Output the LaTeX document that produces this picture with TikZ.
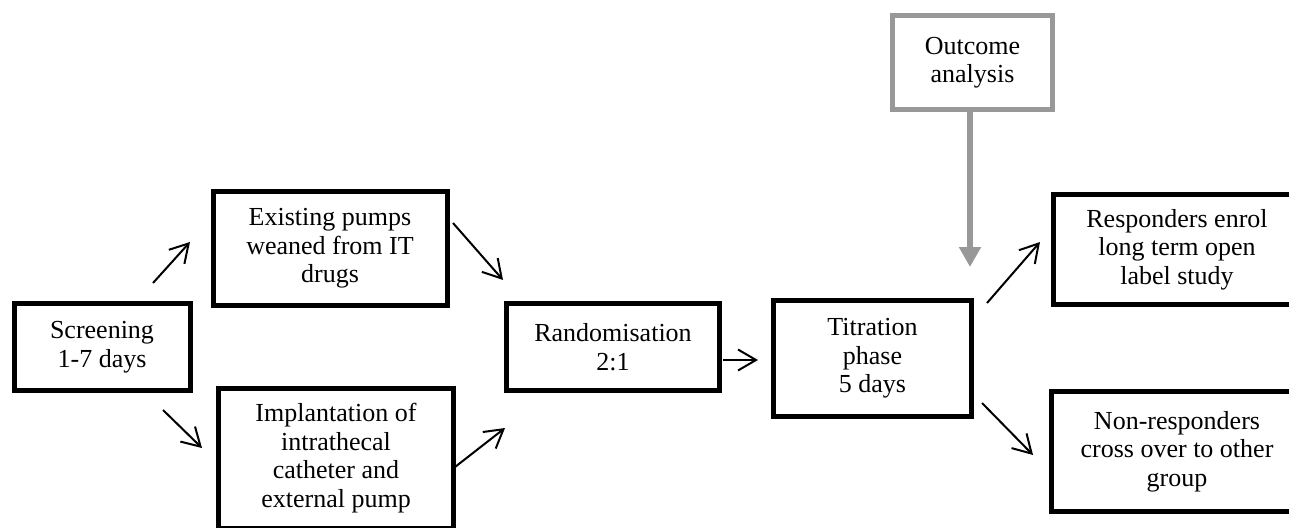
\documentclass[tikz,border=0pt]{standalone}
\usepackage{fontspec}
\setmainfont{Liberation Serif}
\usetikzlibrary{arrows.meta}
\definecolor{boxgray}{RGB}{152,152,152}
\tikzset{
  stepbox/.style={draw=black, line width=5pt, fill=white, inner sep=0pt, align=center,
    font=\fontsize{26}{28.5}\selectfont},
  graybox/.style={stepbox, draw=boxgray},
  flow/.style={line width=2pt, -{Straight Barb[length=18pt,width=21pt,line width=2pt]}},
  grayflow/.style={draw=boxgray, line width=6.5pt, -{Triangle[length=20pt,width=21pt]}}
}
\begin{document}
\begin{tikzpicture}[x=1pt,y=-1pt]
\useasboundingbox (0,0) rectangle (1289,527);
\node[stepbox, minimum width=176pt, minimum height=87pt] (scr) at (102,347) {Screening\\1-7 days};
\node[stepbox, minimum width=234pt, minimum height=114pt] (exist) at (330,248.5) {Existing pumps\\weaned from IT\\drugs};
\node[stepbox, minimum width=235pt, minimum height=140pt] (impl) at (336,458) {Implantation of\\intrathecal\\catheter and\\external pump};
\node[stepbox, minimum width=213pt, minimum height=87pt] (rand) at (613,347) {Randomisation\\2:1};
\node[stepbox, minimum width=198pt, minimum height=116pt] (tit) at (872.5,358.5) {Titration\\phase\\5 days};
\node[graybox, minimum width=160pt, minimum height=94pt] (out) at (972.5,62.5) {Outcome\\analysis};
\node[stepbox, minimum width=247pt, minimum height=110pt] (resp) at (1177,249.5) {Responders enrol\\long term open\\label study};
\node[stepbox, minimum width=251pt, minimum height=120pt] (nonr) at (1177,451.5) {Non-responders\\cross over to other\\group};

\coordinate (a1s) at (153,283); \coordinate (a1e) at (190,242);
\coordinate (a2s) at (163,410); \coordinate (a2e) at (202,448);
\coordinate (a3s) at (453,223); \coordinate (a3e) at (503,280);
\coordinate (a4s) at (455,467); \coordinate (a4e) at (505,428);
\coordinate (a5s) at (723,360); \coordinate (a5e) at (758,360);
\coordinate (a6s) at (987,303); \coordinate (a6e) at (1040,242);
\coordinate (a7s) at (982,403); \coordinate (a7e) at (1033,455);
\coordinate (g1e) at (970,267);

\draw[flow] (a1s) -- (a1e);
\draw[flow] (a2s) -- (a2e);
\draw[flow] (a3s) -- (a3e);
\draw[flow] (a4s) -- (a4e);
\draw[flow] (a5s) -- (a5e);
\draw[flow] (a6s) -- (a6e);
\draw[flow] (a7s) -- (a7e);
\draw[grayflow] (out.south -| g1e) -- (g1e);
\end{tikzpicture}
\end{document}
